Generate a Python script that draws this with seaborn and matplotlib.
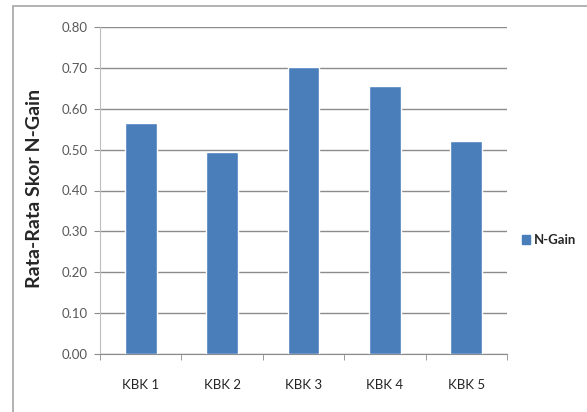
import matplotlib
matplotlib.use("Agg")
import matplotlib.pyplot as plt
import matplotlib.patches as mpatches
import seaborn as sns
import pandas as pd

groups = ["KBK 1", "KBK 2", "KBK 3", "KBK 4", "KBK 5"]
n_gain = [0.565, 0.494, 0.702, 0.656, 0.521]
y_ticks = [0.0, 0.1, 0.2, 0.3, 0.4, 0.5, 0.6, 0.7, 0.8]
series_name = "N-Gain"

df = pd.DataFrame({"Kelompok": groups, "Nilai": n_gain})

sns.set_style("white")
plt.rcParams["font.family"] = ["Lato", "DejaVu Sans"]

W, H = 587, 412
fig = plt.figure(figsize=(W / 100, H / 100), dpi=100)
fig.patch.set_facecolor("white")

# chart area border
fig.add_artist(mpatches.Rectangle((13 / W, -0.05), 1.2, 1 - 6 / H + 0.05,
                                  transform=fig.transFigure, fill=False,
                                  edgecolor="#a6a6a6", linewidth=1.2))

ax = fig.add_axes([100 / W, 1 - 354 / H, (507 - 100) / W, (354 - 27) / H])
sns.barplot(data=df, x="Kelompok", y="Nilai", color="#4a7ebb", width=0.39,
            saturation=1, ax=ax, zorder=3)

ax.set_ylim(0, 0.8)
ax.set_xlim(-0.5, len(groups) - 0.5)
ax.set_yticks(y_ticks)
ax.set_yticklabels([f"{v:.2f}" for v in y_ticks], color="#595959", fontsize=9.5)
ax.set_xticklabels(groups, fontsize=9.5, color="#262626")
ax.yaxis.grid(True, color="#8c8c8c", linewidth=1.0, zorder=0)
ax.set_axisbelow(True)
ax.set_xlabel("")
ax.set_ylabel("Rata-Rata Skor N-Gain", fontsize=14, fontweight="bold",
              color="#262626")
ax.yaxis.set_label_coords(-0.14, 0.505)

for s in ["top", "right"]:
    ax.spines[s].set_visible(False)
ax.spines["left"].set_color("#bfbfbf")
ax.spines["bottom"].set_color("#8c8c8c")

ax.tick_params(axis="y", length=4, color="#8c8c8c", pad=5, direction="out", left=True)
# category boundary ticks along the bottom
ax.set_xticks([i + 0.5 for i in range(-1, len(groups))], minor=True)
ax.tick_params(axis="x", which="major", length=0, pad=18)
ax.tick_params(axis="x", which="minor", length=4, color="#8c8c8c", direction="out", bottom=True)

handle = mpatches.Patch(color="#4a7ebb", label=series_name)
leg = fig.legend(handles=[handle], loc="center left",
                 bbox_to_anchor=(522 / W, 1 - 240 / H), frameon=False,
                 borderpad=0, borderaxespad=0,
                 handlelength=0.6, handleheight=0.6, handletextpad=0.3,
                 prop={"size": 9.5, "weight": "bold"})
for t in leg.get_texts():
    t.set_color("#262626")

fig.savefig("out.png", dpi=100, facecolor="white")
